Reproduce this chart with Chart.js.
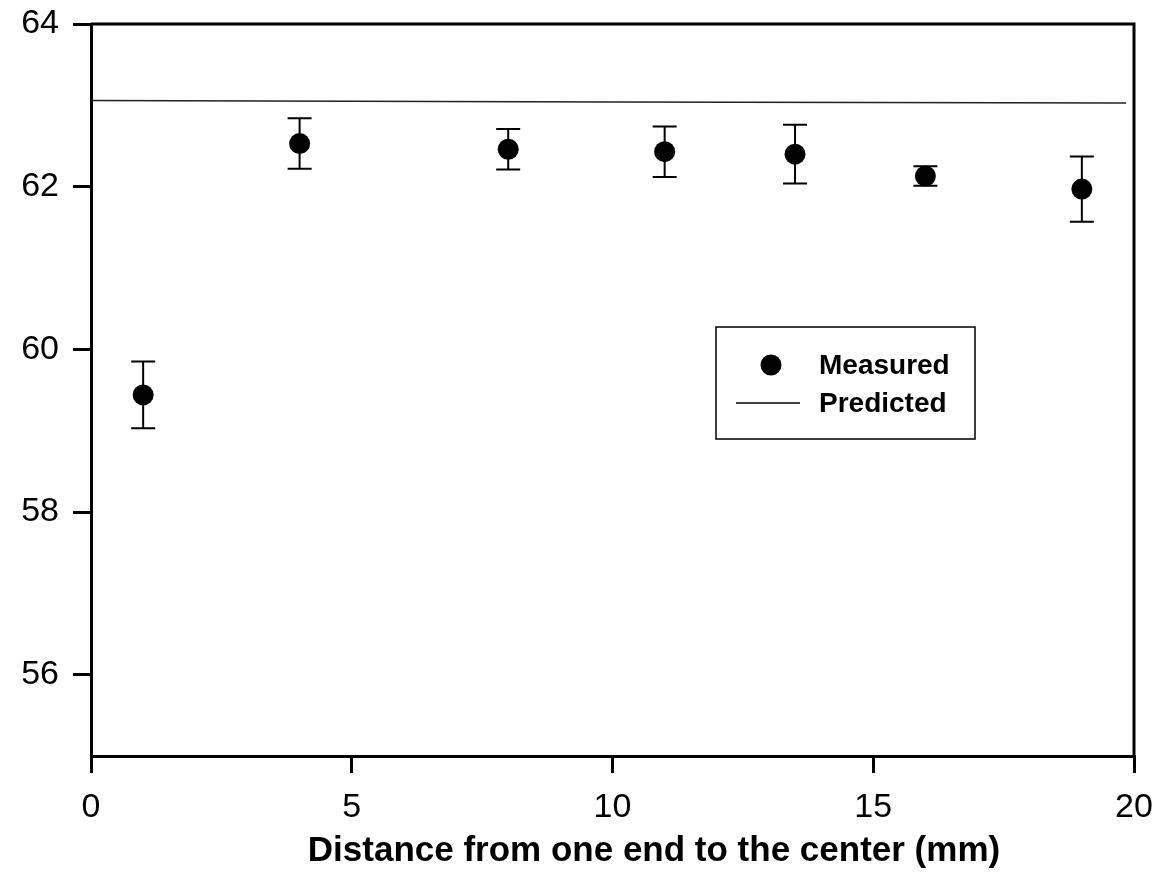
<!DOCTYPE html>
<html>
<head>
<meta charset="utf-8">
<script src="https://cdn.jsdelivr.net/npm/chart.js@4.4.1/dist/chart.umd.min.js"></script>
<style>
  html, body { margin: 0; padding: 0; background: #fff; }
</style>
</head>
<body>
<canvas id="chart" width="1159" height="874"></canvas>
<script>
const distances = [1, 4, 8, 11, 13.5, 16, 19];
const measured = [59.44, 62.53, 62.46, 62.43, 62.40, 62.13, 61.97];
const errors = [0.41, 0.31, 0.25, 0.31, 0.36, 0.12, 0.40];
const predictedX = [0, 10, 19.85];
const predictedY = [63.06, 63.04, 63.03];
const xTicks = [0, 5, 10, 15, 20];
const yTicks = [56, 58, 60, 62, 64];

const FONT = "'Liberation Sans', Arial, sans-serif";

// error bars, drawn under the points
const errorBars = {
    id: "errorBars",
    beforeDatasetsDraw(chart) {
        const { ctx, scales: { x, y } } = chart;
        ctx.save();
        ctx.strokeStyle = "#000";
        ctx.lineWidth = 2;
        distances.forEach((d, i) => {
            const px = x.getPixelForValue(d);
            const top = y.getPixelForValue(measured[i] + errors[i]);
            const bot = y.getPixelForValue(measured[i] - errors[i]);
            ctx.beginPath();
            ctx.moveTo(px, top); ctx.lineTo(px, bot);
            ctx.moveTo(px - 12, top); ctx.lineTo(px + 12, top);
            ctx.moveTo(px - 12, bot); ctx.lineTo(px + 12, bot);
            ctx.stroke();
        });
        ctx.restore();
    }
};

// top/right frame, legend box and x title
const frame = {
    id: "frame",
    afterDraw(chart) {
        const { ctx, chartArea: a } = chart;
        ctx.save();
        ctx.strokeStyle = "#000";
        ctx.lineWidth = 3;
        ctx.beginPath();
        ctx.moveTo(a.left, a.top); ctx.lineTo(a.right, a.top); ctx.lineTo(a.right, a.bottom);
        ctx.stroke();

        // legend
        ctx.lineWidth = 1.5;
        ctx.strokeRect(716, 327, 259, 112);
        ctx.fillStyle = "#000";
        ctx.beginPath();
        ctx.arc(771, 365, 10.5, 0, Math.PI * 2);
        ctx.fill();
        ctx.beginPath();
        ctx.moveTo(736, 403); ctx.lineTo(800, 403);
        ctx.stroke();
        ctx.font = "bold 28px " + FONT;
        ctx.textBaseline = "middle";
        ctx.textAlign = "left";
        ctx.fillText(chart.data.datasets[0].label, 819, 366);
        ctx.fillText(chart.data.datasets[1].label, 819, 404);

        // axis title
        ctx.font = "bold 35px " + FONT;
        ctx.textAlign = "center";
        ctx.fillText("Distance from one end to the center (mm)", 654, 851);
        ctx.restore();
    }
};

new Chart(document.getElementById("chart"), {
    type: "scatter",
    data: {
        datasets: [{
            label: "Measured",
            data: distances.map((d, i) => ({ x: d, y: measured[i] })),
            pointRadius: 10.5,
            pointBackgroundColor: "#000",
            pointBorderColor: "#000",
            pointBorderWidth: 0
        }, {
            label: "Predicted",
            type: "line",
            data: predictedX.map((d, i) => ({ x: d, y: predictedY[i] })),
            borderColor: "#222",
            borderWidth: 1.5,
            pointRadius: 0,
            fill: false
        }]
    },
    options: {
        responsive: false,
        animation: false,
        layout: { padding: { top: 24, right: 25, left: 0, bottom: 0 } },
        plugins: {
            legend: { display: false },
            tooltip: { enabled: false }
        },
        scales: {
            x: {
                type: "linear",
                min: 0,
                max: 20,
                afterBuildTicks: s => { s.ticks = xTicks.map(v => ({ value: v })); },
                afterFit: s => { s.height = 118; s.paddingLeft = 0; s.paddingRight = 0; },
                border: { display: true, color: "#000", width: 3 },
                grid: { drawOnChartArea: false, drawTicks: true, tickLength: 17, color: "#000", lineWidth: 3 },
                ticks: { color: "#000", padding: 14, font: { family: FONT, size: 34 }, maxRotation: 0 }
            },
            y: {
                type: "linear",
                min: 55,
                max: 64,
                afterBuildTicks: s => { s.ticks = yTicks.map(v => ({ value: v })); },
                afterFit: s => { s.width = 91; s.paddingTop = 0; s.paddingBottom = 0; },
                border: { display: true, color: "#000", width: 3 },
                grid: { drawOnChartArea: false, drawTicks: true, tickLength: 18, color: "#000", lineWidth: 3 },
                ticks: { color: "#000", padding: 14, font: { family: FONT, size: 34 } }
            }
        }
    },
    plugins: [errorBars, frame]
});
</script>
</body>
</html>
